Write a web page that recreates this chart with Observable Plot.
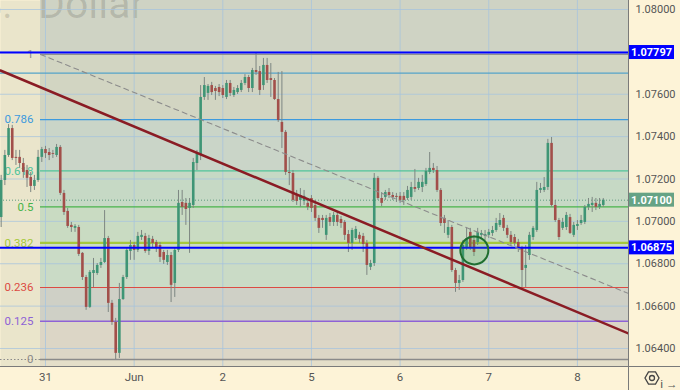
<!DOCTYPE html>
<html><head><meta charset="utf-8">
<script src="https://cdn.jsdelivr.net/npm/d3@7"></script>
<script src="https://cdn.jsdelivr.net/npm/@observablehq/plot@0.6"></script>
<style>
html,body{margin:0;padding:0;background:#fdf3d7;}
#chart{position:relative;width:680px;height:390px;overflow:hidden;}
</style></head><body><div id="chart"></div>
<script>
// hourly candles (index 0 = 30 May 12:00), prices EUR/USD
const opens = [1.07018,1.07193,1.07311,1.07438,1.07302,1.07302,1.07273,1.07240,1.07207,1.07165,1.07193,1.07302,1.07339,1.07325,1.07320,1.07311,1.07349,1.07132,1.07047,1.06981,
1.06967,1.06971,1.06849,1.06735,1.06594,1.06754,1.06754,1.06792,1.06806,1.06919,1.06613,1.06523,1.06377,1.06631,1.06735,1.06858,1.06886,1.06863,1.06924,1.06929,
1.06858,1.06915,1.06900,1.06886,1.06853,1.06806,1.06839,1.06707,1.06863,1.07089,1.07085,1.07061,1.07075,1.07273,1.07311,1.07585,1.07604,1.07641,1.07627,1.07632,
1.07627,1.07585,1.07651,1.07594,1.07608,1.07618,1.07651,1.07679,1.07627,1.07712,1.07707,1.07641,1.07736,1.07674,1.07665,1.07575,1.07467,1.07420,1.07231,1.07226,
1.07122,1.07099,1.07094,1.07085,1.07108,1.07075,1.07014,1.07014,1.06934,1.07018,1.06995,1.07028,1.07009,1.06995,1.06938,1.06896,1.06919,1.06934,1.06929,1.06896,
1.06783,1.06801,1.07203,1.07108,1.07113,1.07136,1.07122,1.07118,1.07118,1.07118,1.07108,1.07113,1.07160,1.07155,1.07160,1.07174,1.07231,1.07250,1.07240,1.07146,
1.07014,1.06934,1.06971,1.06768,1.06707,1.06721,1.06877,1.06948,1.06910,1.06900,1.06934,1.06929,1.06934,1.06943,1.06957,1.06981,1.07014,1.06967,1.06934,1.06924,
1.06900,1.06872,1.06778,1.06839,1.06924,1.06957,1.07146,1.07146,1.07160,1.07368,1.07075,1.07004,1.06967,1.06971,1.07018,1.06934,1.06976,1.06990,1.06995,1.07066,
1.07075,1.07085,1.07066,1.07075];
const highs = [1.07217,1.07335,1.07457,1.07453,1.07335,1.07335,1.07297,1.07264,1.07231,1.07217,1.07335,1.07349,1.07354,1.07344,1.07335,1.07363,1.07358,1.07146,1.07061,1.06995,
1.06985,1.06981,1.06853,1.06745,1.06768,1.06825,1.06801,1.06825,1.07051,1.06929,1.06627,1.06542,1.06707,1.06745,1.06872,1.06910,1.06900,1.06948,1.06957,1.06943,
1.06934,1.06929,1.06910,1.06900,1.06863,1.06863,1.06853,1.06872,1.07146,1.07146,1.07108,1.07108,1.07297,1.07335,1.07641,1.07679,1.07646,1.07656,1.07637,1.07646,
1.07641,1.07665,1.07665,1.07632,1.07641,1.07665,1.07693,1.07689,1.07722,1.07792,1.07731,1.07769,1.07769,1.07745,1.07674,1.07703,1.07707,1.07429,1.07302,1.07240,
1.07146,1.07155,1.07146,1.07108,1.07122,1.07099,1.07028,1.07028,1.07028,1.07037,1.07042,1.07042,1.07023,1.07004,1.06957,1.06967,1.06976,1.06948,1.06943,1.06910,
1.06816,1.07226,1.07212,1.07136,1.07146,1.07155,1.07136,1.07132,1.07136,1.07136,1.07165,1.07184,1.07245,1.07203,1.07217,1.07250,1.07325,1.07273,1.07259,1.07155,
1.07028,1.07004,1.06981,1.06778,1.06745,1.06910,1.06967,1.06967,1.06934,1.06967,1.06957,1.06957,1.06962,1.06976,1.07014,1.07037,1.07028,1.06981,1.06952,1.06938,
1.06915,1.06882,1.06886,1.06948,1.06976,1.07184,1.07179,1.07207,1.07387,1.07396,1.07099,1.07014,1.07014,1.07042,1.07033,1.06995,1.07004,1.07028,1.07075,1.07108,
1.07113,1.07108,1.07108,1.07108];
const lows = [1.06971,1.07169,1.07302,1.07287,1.07264,1.07250,1.07203,1.07160,1.07136,1.07146,1.07184,1.07278,1.07297,1.07287,1.07297,1.07302,1.07122,1.07028,1.06967,1.06948,
1.06948,1.06834,1.06721,1.06580,1.06589,1.06688,1.06745,1.06778,1.06801,1.06570,1.06509,1.06348,1.06353,1.06627,1.06726,1.06816,1.06816,1.06853,1.06910,1.06849,
1.06839,1.06872,1.06853,1.06806,1.06797,1.06792,1.06617,1.06641,1.06853,1.07028,1.06981,1.06849,1.07061,1.07240,1.07287,1.07571,1.07571,1.07594,1.07571,1.07589,
1.07580,1.07575,1.07589,1.07585,1.07599,1.07608,1.07641,1.07608,1.07608,1.07689,1.07594,1.07618,1.07651,1.07585,1.07571,1.07467,1.07344,1.07217,1.07169,1.07089,
1.07075,1.07066,1.07075,1.07051,1.07042,1.07000,1.06943,1.06967,1.06910,1.06976,1.06976,1.06976,1.06967,1.06910,1.06853,1.06863,1.06910,1.06896,1.06853,1.06745,
1.06768,1.06787,1.07099,1.07070,1.07099,1.07108,1.07099,1.07089,1.07085,1.07075,1.07099,1.07099,1.07136,1.07146,1.07136,1.07165,1.07221,1.07226,1.07136,1.06976,
1.06943,1.06919,1.06759,1.06665,1.06674,1.06712,1.06863,1.06863,1.06834,1.06886,1.06919,1.06910,1.06919,1.06929,1.06948,1.06971,1.06952,1.06919,1.06886,1.06882,
1.06853,1.06688,1.06688,1.06816,1.06910,1.06948,1.07132,1.07136,1.07146,1.07066,1.06995,1.06910,1.06957,1.06957,1.06938,1.06924,1.06957,1.06981,1.06985,1.07051,
1.07042,1.07051,1.07056,1.07066];
const closes = [1.07193,1.07311,1.07438,1.07297,1.07297,1.07273,1.07231,1.07203,1.07165,1.07193,1.07302,1.07339,1.07320,1.07311,1.07316,1.07349,1.07132,1.07042,1.06976,1.06971,
1.06976,1.06844,1.06735,1.06594,1.06759,1.06768,1.06792,1.06806,1.06919,1.06613,1.06523,1.06377,1.06631,1.06735,1.06863,1.06886,1.06863,1.06929,1.06934,1.06858,
1.06919,1.06896,1.06872,1.06830,1.06816,1.06839,1.06698,1.06863,1.07085,1.07066,1.07056,1.07085,1.07278,1.07320,1.07585,1.07641,1.07637,1.07608,1.07613,1.07608,
1.07594,1.07651,1.07604,1.07618,1.07627,1.07651,1.07679,1.07627,1.07712,1.07703,1.07618,1.07736,1.07665,1.07665,1.07575,1.07476,1.07420,1.07231,1.07226,1.07099,
1.07094,1.07122,1.07118,1.07066,1.07061,1.07014,1.06967,1.07004,1.07014,1.06995,1.07028,1.06995,1.06990,1.06934,1.06896,1.06957,1.06962,1.06915,1.06891,1.06792,
1.06801,1.07203,1.07108,1.07085,1.07136,1.07122,1.07113,1.07113,1.07099,1.07099,1.07146,1.07160,1.07151,1.07184,1.07184,1.07236,1.07250,1.07240,1.07146,1.06990,
1.06990,1.06971,1.06768,1.06707,1.06721,1.06886,1.06919,1.06877,1.06853,1.06948,1.06943,1.06938,1.06948,1.06957,1.06990,1.07004,1.06967,1.06934,1.06900,1.06896,
1.06872,1.06768,1.06792,1.06934,1.06967,1.07146,1.07155,1.07160,1.07368,1.07075,1.07004,1.06924,1.06995,1.07028,1.06943,1.06981,1.06985,1.07004,1.07066,1.07080,
1.07085,1.07066,1.07080,1.07100];

// axes
const dayTicks = [12, 36, 60, 84, 108, 132, 156];
const dayLabels = ["31", "Jun", "2", "5", "6", "7", "8"];
const gridPrices = [1.064, 1.066, 1.068, 1.070, 1.072, 1.074, 1.076, 1.078, 1.080];
const priceTicks = [1.064, 1.066, 1.068, 1.070, 1.072, 1.074, 1.076, 1.080];

// fibonacci retracement
const fibLevels = [0, 0.125, 0.236, 0.382, 0.5, 0.618, 0.786, 1];
const fibLabels = ["0", "0.125", "0.236", "0.382", "0.5", "0.618", "0.786", "1"];
const fibColors = ["#8a8a8a", "#8e62d6", "#dc4b43", "#a6c83c", "#47b34a", "#4fc39a", "#3d9ade", "#8a8a8a"];
const fibWidths = [1.5, 1.5, 1.2, 2.2, 1.2, 1.2, 1.2, 1];
const bandColors = ["#e4dec9", "#dcd6c6", "#cfd0c6", "#cadbc6", "#c9dbc2", "#c6d9c5", "#cad5c8", "#d2d5c2", "#cfd3c4"];
const fibLow = 1.06348, fibHigh = 1.07788;
const fibStart = 10.65, fibEnd = 213.8;

// other drawings
const blueLevels = [1.07797, 1.06875];
const tealLevel = [1.0770];
const lastPrice = 1.07100;
const trendLine = [{i: -0.2, p: 1.07712}, {i: 169.8, p: 1.06471}];
const circleMark = [{i: 128.1, p: 1.06863}];
const priceTags = [
  {p: 1.07797, label: "1.07797", bg: "#0000ff"},
  {p: 1.07100, label: "1.07100", bg: "#66a385"},
  {p: 1.06875, label: "1.06875", bg: "#0000ff"}
];
const watermark = ["U.S. Dollar"];

const candles = opens.map((o, i) => ({i, o, h: highs[i], l: lows[i], c: closes[i]}));
const xDomain = [-0.18, 169.83];
const yDomain = [1.06315, 1.080425];
const fibData = fibLevels.map((lv, j) => ({
  p: fibLow + lv * (fibHigh - fibLow), label: fibLabels[j], color: fibColors[j], w: fibWidths[j]
}));
const edges = [yDomain[0], ...fibData.map(d => d.p), yDomain[1]];
const bands = bandColors.map((c, j) => ({lo: edges[j], hi: edges[j + 1], color: c}));
const fibDiag = [{i: fibStart, p: fibHigh}, {i: fibEnd, p: fibLow}];

const up = "#3f9575", down = "#a24f4a", wick = "#7d8682";

const plot = Plot.plot({
  width: 680, height: 390,
  marginLeft: 0, marginRight: 52, marginTop: 0, marginBottom: 24,
  x: {domain: xDomain},
  y: {domain: yDomain},
  style: {background: "transparent", fontFamily: "Roboto, 'Noto Sans', sans-serif", fontSize: "11px"},
  marks: [
    Plot.frame({fill: "#eae5cb", stroke: null}),
    Plot.rect(bands, {x1: fibStart, x2: xDomain[1], y1: "lo", y2: "hi", fill: "color"}),
    Plot.text(watermark, {text: d => d, frameAnchor: "top-left", dx: 144, dy: 4, textAnchor: "end", lineAnchor: "middle", fontSize: 41, fill: "#000", fillOpacity: 0.13, className: "wm"}),
    Plot.gridX(dayTicks, {stroke: "#a5c3dd", strokeOpacity: 0.75}),
    Plot.gridY(gridPrices, {stroke: "#a5c3dd", strokeOpacity: 0.75}),
    Plot.ruleY([fibLow], {x1: xDomain[0], x2: fibStart, stroke: "#8a8a8a", strokeDasharray: "1.5,2"}),
    Plot.ruleY(fibData, {y: "p", x1: fibStart, x2: xDomain[1], stroke: "color", strokeWidth: "w"}),
    Plot.text(fibData, {x: fibStart, y: "p", text: "label", fill: "color", textAnchor: "end", dx: -7, fontSize: 11.5}),
    Plot.ruleY(tealLevel, {stroke: "#55a3c9", strokeWidth: 1.3}),
    Plot.ruleY([lastPrice], {stroke: "#5f9a7e", strokeDasharray: "1,2"}),
    Plot.ruleX(candles, {x: "i", y1: "l", y2: "h", stroke: wick, strokeWidth: 1}),
    Plot.ruleX(candles, {x: "i", y1: "o", y2: "c", stroke: d => d.c >= d.o ? up : down, strokeWidth: 2.6}),
    Plot.ruleY(blueLevels, {stroke: "#0000ff", strokeWidth: 2}),
    Plot.line(fibDiag, {x: "i", y: "p", stroke: "#8c8c8c", strokeWidth: 1.1, strokeDasharray: "5,4", clip: true}),
    Plot.line(trendLine, {x: "i", y: "p", stroke: "#8a1c24", strokeWidth: 2.5, clip: true}),
    Plot.dot(circleMark, {x: "i", y: "p", r: 14, stroke: "#1f6e30", strokeWidth: 2, fill: "#3fa04a", fillOpacity: 0.18}),
    Plot.axisY(priceTicks, {anchor: "right", tickSize: 0, tickPadding: 7, tickFormat: d => d.toFixed(5), color: "#555", fontSize: 11}),
    Plot.axisX(dayTicks, {anchor: "bottom", tickSize: 0, tickPadding: 6, tickFormat: d => dayLabels[dayTicks.indexOf(d)], color: "#555", fontSize: 11.5})
  ]
});

// chrome: axis borders, price tags, settings icon
const svg = d3.select(plot);
svg.selectAll("g.wm text").style("word-spacing", "15px");
const ys = plot.scale("y");
svg.append("line").attr("x1", 628.5).attr("x2", 628.5).attr("y1", 0).attr("y2", 390).attr("stroke", "#7a7a7a");
svg.append("line").attr("x1", 0).attr("x2", 680).attr("y1", 366.5).attr("y2", 366.5).attr("stroke", "#7a7a7a");
const tags = svg.append("g");
priceTags.forEach(t => {
  const yy = ys.apply(t.p);
  tags.append("rect").attr("x", 629).attr("y", yy - 7).attr("width", 45).attr("height", 14).attr("fill", t.bg);
  tags.append("text").attr("x", 651.5).attr("y", yy).attr("dy", "0.35em").attr("text-anchor", "middle")
    .attr("fill", "#fff").attr("font-weight", "bold").attr("font-size", 11).attr("font-family", "Roboto, sans-serif").text(t.label);
});
const cx = 652, cy = 378, rr = 7;
const hex = d3.range(6).map(k => [cx + rr * Math.cos(Math.PI / 3 * k), cy + rr * Math.sin(Math.PI / 3 * k)]);
svg.append("path").attr("d", "M" + hex.join("L") + "Z").attr("fill", "none").attr("stroke", "#444").attr("stroke-width", 1.3);
svg.append("circle").attr("cx", cx).attr("cy", cy).attr("r", 2.5).attr("fill", "none").attr("stroke", "#444").attr("stroke-width", 1.3);

document.getElementById("chart").append(plot);
</script>
</body></html>
